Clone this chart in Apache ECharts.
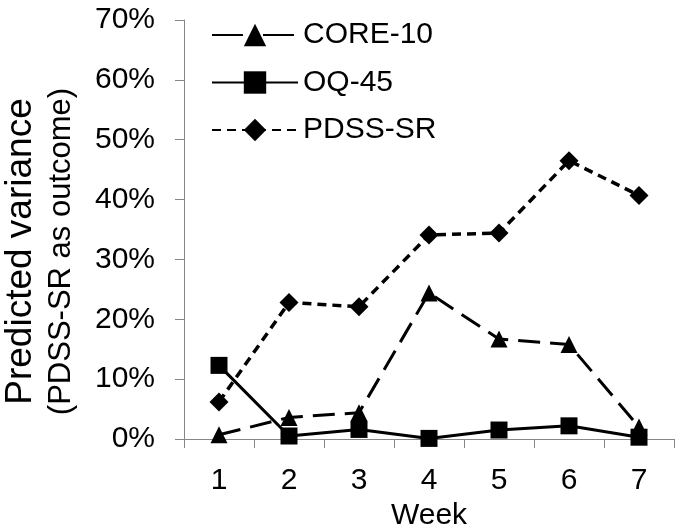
<!DOCTYPE html>
<html>
<head>
<meta charset="utf-8">
<script src="https://cdn.jsdelivr.net/npm/echarts@6/dist/echarts.min.js"></script>
<style>html,body{margin:0;padding:0;background:#fff;}#c{width:681px;height:532px;}</style>
</head>
<body>
<div id="c"></div>
<script>
var weeks = ['1', '2', '3', '4', '5', '6', '7'];
var core10 = [0.7, 3.6, 4.4, 24.4, 16.7, 15.8, 2.0];
var oq45 = [12.3, 0.5, 1.6, 0.1, 1.5, 2.2, 0.3];
var pdssSR = [6.2, 22.8, 22.1, 34.1, 34.4, 46.5, 40.7];
var yTicks = [0, 10, 20, 30, 40, 50, 60, 70];
var yTitle1 = 'Predicted variance';
var yTitle2 = '(PDSS-SR as outcome)';

var FONT = '"Liberation Sans", Arial, sans-serif';
var chart = echarts.init(document.getElementById('c'), null, {renderer: 'canvas'});
chart.setOption({
  backgroundColor: '#fff',
  animation: false,
  textStyle: {fontFamily: FONT, color: '#000'},
  grid: {left: 184, right: 7, top: 20, bottom: 93, containLabel: false, outerBoundsMode: 'none'},
  legend: {
    orient: 'vertical', left: 211, top: 20, padding: 0,
    itemWidth: 86, itemHeight: 28, itemGap: 17.5,
    textStyle: {fontSize: 30, color: '#000', fontFamily: FONT},
    data: [
      {name: 'CORE-10', lineStyle: {type: [31, 20]}},
      {name: 'OQ-45'},
      {name: 'PDSS-SR'}
    ]
  },
  xAxis: {
    type: 'category', data: weeks, boundaryGap: true,
    name: 'Week', nameLocation: 'middle', nameGap: 54,
    nameTextStyle: {fontSize: 30, color: '#000', fontFamily: FONT},
    axisLine: {lineStyle: {color: '#868686', width: 1}},
    axisTick: {show: true, length: 9, inside: false, lineStyle: {color: '#868686'}},
    axisLabel: {fontSize: 30, color: '#000', margin: 27, fontFamily: FONT},
    splitLine: {show: false}
  },
  yAxis: {
    type: 'value', min: yTicks[0], max: yTicks[yTicks.length - 1], interval: 10,
    name: '{a|' + yTitle1 + '}\n{b|' + yTitle2 + '}',
    nameLocation: 'middle', nameGap: 103, nameRotate: 90,
    nameTextStyle: {
      color: '#000', fontFamily: FONT, padding: [0, 44, 0, 0],
      rich: {
        a: {fontSize: 37, lineHeight: 40, color: '#000', fontFamily: FONT},
        b: {fontSize: 31, lineHeight: 40, color: '#000', fontFamily: FONT}
      }
    },
    axisLine: {show: true, lineStyle: {color: '#868686', width: 1}},
    axisTick: {show: true, length: 9, lineStyle: {color: '#868686'}},
    axisLabel: {fontSize: 30, color: '#000', margin: 29, formatter: '{value}%', fontFamily: FONT},
    splitLine: {show: false}
  },
  series: [
    {
      name: 'CORE-10', type: 'line', data: core10,
      symbol: 'triangle', symbolSize: 17,
      lineStyle: {color: '#000', width: 3, type: [22, 10]},
      itemStyle: {color: '#000'}
    },
    {
      name: 'OQ-45', type: 'line', data: oq45,
      symbol: 'rect', symbolSize: 17,
      lineStyle: {color: '#000', width: 3, type: 'solid'},
      itemStyle: {color: '#000'}
    },
    {
      name: 'PDSS-SR', type: 'line', data: pdssSR,
      symbol: 'diamond', symbolSize: 19,
      lineStyle: {color: '#000', width: 3.5, type: [9, 6]},
      itemStyle: {color: '#000'}
    }
  ]
});
</script>
</body>
</html>
